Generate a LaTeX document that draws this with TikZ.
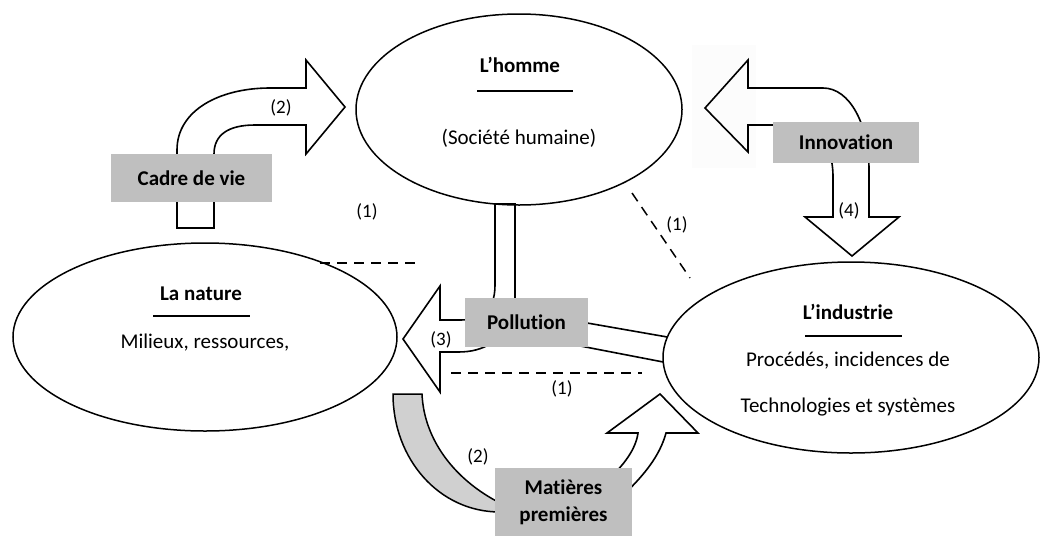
\documentclass[tikz,border=0pt]{standalone}
\usepackage{fontspec}
\setmainfont{Carlito}[Ligatures=NoCommon]
\usetikzlibrary{shapes.geometric}
\definecolor{boxgray}{HTML}{BFBFBF}
\definecolor{stemgray}{HTML}{D0D0D0}
\definecolor{haze}{HTML}{FCFCFC}
\begin{document}
\begin{tikzpicture}[x=1pt,y=-1pt,
  every node/.style={font=\fontsize{21}{25}\selectfont},
  pole/.style={draw, ellipse, line width=1.5pt, inner sep=0pt},
  tag/.style={fill=boxgray, inner sep=0pt, align=center,
              font=\fontsize{21}{27}\selectfont\bfseries},
  num/.style={font=\fontsize{19}{22}\selectfont, inner sep=0pt},
  blockarrow/.style={draw, line width=1.6pt, line join=miter},
  rule/.style={line width=1.6pt},
  link/.style={line width=1.5pt, dash pattern=on 10pt off 7pt},
]
\useasboundingbox (0,0) rectangle (1040,536);

% faint pasted background behind the arrow head towards L'homme
\fill[haze] (692,45) rectangle (756,168);

% ---- block arrows ----
% Cadre de vie -> L'homme
\draw[blockarrow, fill=white] (177,228) -- (177,150)
  .. controls (177,110) and (220,88) .. (270,88) -- (306,88) -- (306,60)
  -- (345,107) -- (306,154) -- (306,125) -- (255,125)
  .. controls (228,125) and (214,135) .. (214,154) -- (214,228) -- cycle;

% Innovation: towards L'homme and towards L'industrie
\draw[blockarrow] (748,88) -- (823,88)
  .. controls (850,88) and (869,125) .. (869,170) -- (869,217) -- (899,217)
  -- (852,256) -- (805,217) -- (833,217) -- (833,175)
  .. controls (832,140) and (815,125) .. (790,125) -- (748,125) -- (748,152)
  -- (705,108) -- (748,60) -- cycle;

% Pollution from L'homme and L'industrie into La nature
\draw[blockarrow] (515,310) -- (515,204) -- (495,204) -- (495,285)
  .. controls (495,312) and (480,320) .. (460,320) -- (440,320) -- (440,286)
  -- (403,339) -- (440,392) -- (440,352) -- (458,352)
  .. controls (472,352) and (482,349) .. (492,343);
\draw[rule] (570,320) -- (667.3,337);
\draw[rule] (570,344) -- (663.2,362);

% Matières premières: from La nature ...
\draw[line width=1.5pt, fill=stemgray] (393,394) -- (422,394)
  .. controls (424,440) and (455,480) .. (500,503) -- (500,512)
  .. controls (439,512) and (393,459) .. (393,394) -- cycle;
% ... towards L'industrie
\draw[blockarrow] (605,482) .. controls (625,465) and (636,448) .. (638,433)
  -- (607,433) -- (660,394) -- (698,433) -- (666,433)
  .. controls (660,455) and (645,475) .. (620,498);

% ---- dashed links (1) ----
\coordinate (d1a) at (320,263); \coordinate (d1b) at (422,263);
\coordinate (d2a) at (632,193); \coordinate (d2b) at (690,278);
\coordinate (d3a) at (451,373); \coordinate (d3b) at (642,373);
\draw[link] (d1a) -- (d1b);
\draw[link] (d2a) -- (d2b);
\draw[link] (d3a) -- (d3b);

% ---- the three poles ----
\node[pole, minimum width=326pt, minimum height=191pt] (homme) at (519,109.5) {};
\node[pole, minimum width=384pt, minimum height=188pt] (nature) at (205,337) {};
\node[pole, minimum width=376pt, minimum height=191pt] (industrie) at (851,357.5) {};

\node[font=\fontsize{21}{25}\selectfont\bfseries] (hommeT) at (520,65) {L’homme};
\draw[rule] (477,91) -- (573,91);
\node (hommeS) at (519,138) {(Société humaine)};

\node[font=\fontsize{21}{25}\selectfont\bfseries] (natureT) at (201,294) {La nature};
\draw[rule] (153,316) -- (250,316);
\node (natureS) at (205,343) {Milieux, ressources,};

\node[font=\fontsize{21}{25}\selectfont\bfseries] (industrieT) at (848,312) {L’industrie};
\draw[rule] (805,336) -- (902,336);
\node (industrieS1) at (848,361) {Procédés, incidences de};
\node (industrieS2) at (848,407) {Technologies et systèmes};

% ---- grey labels ----
\node[tag, minimum width=161pt, minimum height=48pt] (cadre) at (191.5,178) {Cadre de vie};
\node[tag, minimum width=146pt, minimum height=41pt] (innov) at (846,142.5) {Innovation};
\node[tag, minimum width=123pt, minimum height=49pt] (pollu) at (526.5,322.5) {Pollution};
\node[tag, minimum width=137pt, minimum height=68pt] (matieres) at (563.5,502) {Matières\\premières};

% ---- numbered labels ----
\node[num] (n2a) at (281,108) {(2)};
\node[num] (n1a) at (367,212) {(1)};
\node[num] (n1b) at (677,225) {(1)};
\node[num] (n3)  at (441,340) {(3)};
\node[num] (n1c) at (562,389) {(1)};
\node[num] (n4)  at (849,211) {(4)};
\node[num] (n2b) at (478,457) {(2)};
\end{tikzpicture}
\end{document}
